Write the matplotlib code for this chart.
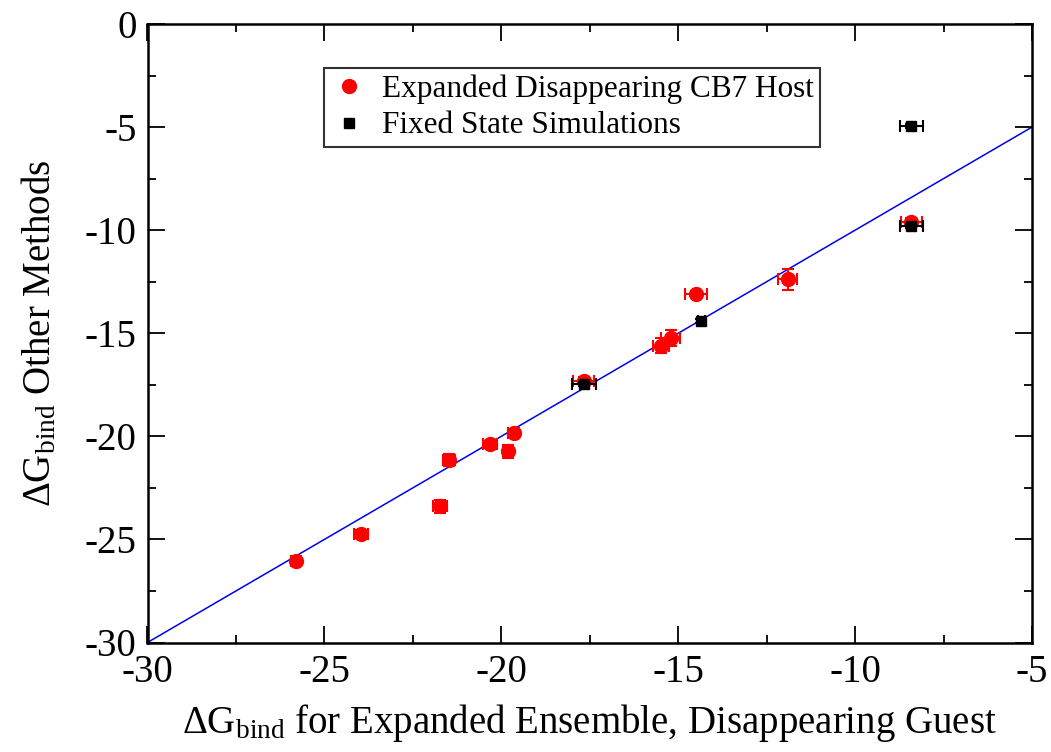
import matplotlib
matplotlib.use("Agg")
import matplotlib.pyplot as plt
from matplotlib.ticker import MultipleLocator

plt.rcParams['font.family'] = ['Liberation Serif', 'DejaVu Serif']
plt.rcParams['mathtext.fontset'] = 'custom'
plt.rcParams['mathtext.rm'] = 'Liberation Serif'
plt.rcParams['mathtext.it'] = 'Liberation Serif:italic'

# Expanded Disappearing CB7 Host (red circles)
red_x = [-25.80, -23.96, -21.74, -21.48, -20.33, -19.81, -19.65, -17.67, -15.49, -15.21, -14.50, -11.90, -8.41]
red_y = [-26.06, -24.72, -23.40, -21.14, -20.38, -20.73, -19.83, -17.30, -15.60, -15.25, -13.09, -12.38, -9.58]
red_xerr = [0.15, 0.20, 0.20, 0.18, 0.20, 0.15, 0.15, 0.30, 0.22, 0.27, 0.30, 0.27, 0.30]
red_yerr = [0.15, 0.20, 0.30, 0.30, 0.15, 0.30, 0.15, 0.20, 0.35, 0.39, 0.15, 0.50, 0.15]

# Fixed State Simulations (black squares)
blk_x = [-17.67, -14.35, -8.41, -8.41]
blk_y = [-17.48, -14.40, -4.94, -9.80]
blk_xerr = [0.34, 0.10, 0.33, 0.33]
blk_yerr = [0.10, 0.10, 0.10, 0.10]

line_x = [-30, -5]
line_y = [-30, -5]

xticks = [-30, -25, -20, -15, -10, -5]
yticks = [-30, -25, -20, -15, -10, -5, 0]

fig = plt.figure(figsize=(10.51, 7.52), dpi=100)
ax = fig.add_axes([147.5/1051, 1 - 642.5/752, (1032 - 147.5)/1051, (642.5 - 24)/752])

ax.plot(line_x, line_y, color='#0000ee', lw=1.1, zorder=1)

ax.errorbar(red_x, red_y, xerr=red_xerr, yerr=red_yerr, fmt='o', color='red',
            ms=10, ecolor='red', elinewidth=1.5, capsize=4, capthick=1.5, zorder=3)
ax.errorbar(blk_x, blk_y, xerr=blk_xerr, yerr=blk_yerr, fmt='s', color='black',
            ms=7, ecolor='black', elinewidth=1.5, capsize=4, capthick=1.5, zorder=4)

h1, = ax.plot([], [], 'o', color='red', ms=10, label='Expanded Disappearing CB7 Host')
h2, = ax.plot([], [], 's', color='black', ms=7, label='Fixed State Simulations')
leg = ax.legend(handles=[h1, h2], loc='upper left', bbox_to_anchor=(0.1995, 0.929),
                fontsize=22.5, frameon=True, fancybox=False, edgecolor='black',
                borderpad=0.2, handletextpad=0.45, labelspacing=0.25, handlelength=1.2,
                borderaxespad=0)
leg.get_frame().set_linewidth(1.5)

ax.set_xlim(-30, -5)
ax.set_ylim(-30, 0)
ax.set_xticks(xticks)
ax.set_yticks(yticks)
ax.set_xticklabels([str(t) for t in xticks])
ax.set_yticklabels([str(t) for t in yticks])
ax.xaxis.set_minor_locator(MultipleLocator(2.5))
ax.yaxis.set_minor_locator(MultipleLocator(2.5))
ax.tick_params(which='both', direction='in', top=True, right=True, width=1.3)
ax.tick_params(which='major', length=12, labelsize=28, pad=8)
ax.tick_params(which='minor', length=6)
for s in ax.spines.values():
    s.set_linewidth(1.8)

ax.set_xlabel(r'$\Delta$G$_{\rm bind}$ for Expanded Ensemble, Disappearing Guest', fontsize=28, labelpad=8)
ax.set_ylabel(r'$\Delta$G$_{\rm bind}$ Other Methods', fontsize=28, labelpad=18)

fig.savefig('out.png', dpi=100)
